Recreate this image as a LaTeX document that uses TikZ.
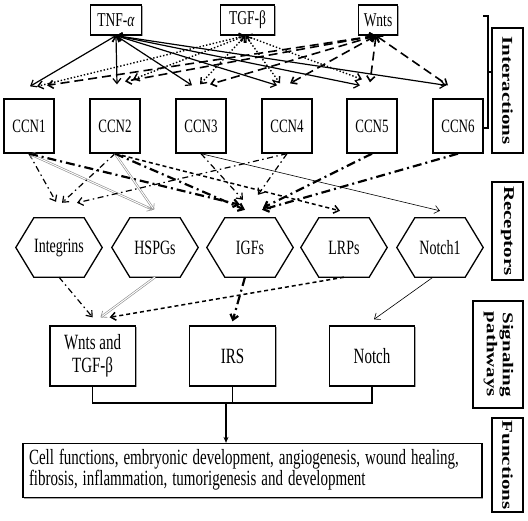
\documentclass[tikz,border=0pt]{standalone}
\usepackage{fontspec}
\setmainfont{Liberation Serif}
\usepackage{graphicx}
\usetikzlibrary{arrows.meta,calc,shadows}
\newcommand{\tall}[1]{\scalebox{1}[1.45]{#1}}
\newcommand{\wide}[1]{\scalebox{1.4}[1]{#1}}
\begin{document}
\begin{tikzpicture}[x=1pt,y=-1pt,
  >={Straight Barb[length=5pt,width=8pt]},
  box/.style={draw, line width=1.3pt, fill=white, inner sep=0pt,
    drop shadow={shadow xshift=1.3pt, shadow yshift=-1.3pt, fill=black!35, opacity=1}},
  topbox/.style={box, minimum height=30pt, font=\fontsize{13.5}{16}\selectfont},
  ccnbox/.style={box, minimum width=50pt, minimum height=54pt, font=\fontsize{13}{16}\selectfont},
  hexnode/.style={inner sep=0pt, minimum width=86pt, minimum height=59pt, font=\fontsize{14}{16}\selectfont},
  sigbox/.style={box, minimum width=85.5pt, minimum height=60pt, font=\fontsize{15}{16}\selectfont},
  lab/.style={draw, line width=1.3pt, inner sep=0pt, font=\bfseries\fontsize{15}{16}\selectfont},
  tnfl/.style={line width=1.2pt},
  tgfl/.style={line width=1.4pt, dash pattern=on 1.4pt off 2pt},
  wntl/.style={line width=1.6pt, dash pattern=on 9pt off 5pt},
  ddt/.style={line width=1.2pt, dash pattern=on 6pt off 3.5pt on 1.5pt off 3.5pt},
  ddk/.style={line width=2.2pt, dash pattern=on 9pt off 4pt on 2pt off 4pt},
  dbl/.style={draw=black!45, line width=0.6pt, double=white, double distance=1pt},
  dsh/.style={line width=1.5pt, dash pattern=on 4pt off 3pt},
  thinl/.style={line width=0.6pt},
  hexline/.style={line width=1.3pt}
]
\useasboundingbox (0,0) rectangle (528,520);
\fill[white] (0,0) rectangle (528,520);

% top boxes
\node[topbox, minimum width=51pt] (tnf) at (116,20) {\tall{TNF-{\itshape α}}};
\node[topbox, minimum width=54pt] (tgf) at (247.5,20) {\tall{TGF-β}};
\node[topbox, minimum width=39pt] (wnt) at (378,20) {\tall{Wnts}};

% CCN boxes
\node[ccnbox] (ccn1) at (29,126) {\tall{CCN1}};
\node[ccnbox] (ccn2) at (115,126) {\tall{CCN2}};
\node[ccnbox] (ccn3) at (201,126) {\tall{CCN3}};
\node[ccnbox] (ccn4) at (287,126) {\tall{CCN4}};
\node[ccnbox] (ccn5) at (372,126) {\tall{CCN5}};
\node[ccnbox] (ccn6) at (458,126) {\tall{CCN6}};

% receptors (hexagons)
\node[hexnode] (int) at (59,247.5) {\tall{Integrins}};
\node[hexnode] (hsp) at (155,247.5) {\tall{HSPGs}};
\node[hexnode] (igf) at (250,247.5) {\tall{IGFs}};
\node[hexnode] (lrp) at (344,247.5) {\tall{LRPs}};
\node[hexnode] (nch) at (440,247.5) {\tall{Notch1}};
\foreach \n in {int,hsp,igf,lrp,nch}{
  \draw[hexline] (\n.west) -- ([xshift=18pt]\n.north west) -- ([xshift=-18pt]\n.north east)
    -- (\n.east) -- ([xshift=-18pt]\n.south east) -- ([xshift=18pt]\n.south west) -- cycle;
}

% signaling boxes
\node[sigbox] (sw) at (92.6,356) {\tall{\begin{tabular}{@{}c@{}}Wnts and\\TGF-β\end{tabular}}};
\node[sigbox] (irs) at (232.5,356) {\tall{IRS}};
\node[sigbox] (sn) at (372,356) {\tall{Notch}};

% functions box
\node[box, minimum width=459pt, minimum height=54pt, text width=447pt, inner xsep=6pt, align=left,
  font=\fontsize{15}{12.8}\selectfont] (fun) at (252.5,470.5)
  {\tall{\begin{tabular}{@{}l@{}}Cell functions, embryonic development, angiogenesis, wound healing,\\fibrosis, inflammation, tumorigenesis and development\end{tabular}}};

% right-hand labels
\node[lab, minimum width=31pt, minimum height=125pt] (lint) at (507.5,90.5) {\rotatebox{-90}{\wide{Interactions}}};
\node[lab, minimum width=31pt, minimum height=98pt] (lrec) at (507.5,231) {\rotatebox{-90}{\wide{Receptors}}};
\node[lab, minimum width=50pt, minimum height=107pt] (lsig) at (498,354.5) {\rotatebox{-90}{\wide{\begin{tabular}{@{}c@{}}Signaling\\pathways\end{tabular}}}};
\node[lab, minimum width=31pt, minimum height=94pt] (lfun) at (507.5,465) {\rotatebox{-90}{\wide{Functions}}};

% bracket
\coordinate (bk) at (488,72);
\draw[line width=1.2pt] (483,16) -- (488,16) -- (488,128) -- (483,128);
\draw[line width=1.2pt] (bk) -- (lint.west |- bk);

% TNF-alpha interactions (solid)
\draw[tnfl,<->] (tnf.south) -- ($(ccn1.north)+(1,-12)$);
\draw[tnfl,<->] (tnf.south) -- ($(ccn2.north)+(2,-14)$);
\draw[tnfl,<->] (tnf.south) -- ($(ccn3.north)+(-9,-13)$);
\draw[tnfl,<->] (tnf.south) -- ($(ccn4.north)+(-10,-13)$);
\draw[tnfl,<->] (tnf.south) -- ($(ccn5.north)+(-12,-13)$);
\draw[tnfl,<->] (tnf.south) -- ($(ccn6.north)+(-12,-13)$);
% TGF-beta interactions (dotted)
\draw[tgfl,<->] ($(tgf.south)+(-2,0)$) -- ($(ccn1.north)+(8,-12)$);
\draw[tgfl,<->] ($(tgf.south)+(-2,0)$) -- ($(ccn2.north)+(18,-19)$);
\draw[tgfl,<->] ($(tgf.south)+(-2,0)$) -- ($(ccn3.north)+(-1,-14)$);
\draw[tgfl,<->] ($(tgf.south)+(-2,0)$) -- ($(ccn4.north)+(-7,-15)$);
\draw[tgfl,<->] ($(tgf.south)+(-2,0)$) -- ($(ccn5.north)+(-10,-19)$);
% Wnts interactions (dashed)
\draw[wntl,<->] ($(wnt.south)+(-2,0)$) -- ($(ccn1.north)+(18,-13)$);
\draw[wntl,<->] ($(wnt.south)+(-2,0)$) -- ($(ccn2.north)+(10,-17)$);
\draw[wntl,<->] ($(wnt.south)+(-2,0)$) -- ($(ccn3.north)+(9,-14)$);
\draw[wntl,<->] ($(wnt.south)+(-2,0)$) -- ($(ccn4.north)+(3,-15)$);
\draw[wntl,<->] ($(wnt.south)+(-2,0)$) -- ($(ccn5.north)+(-2,-16)$);
\draw[wntl,<->] ($(wnt.south)+(-2,0)$) -- ($(ccn6.north)+(-10,-13)$);

% CCN -> receptors
\draw[ddt,->] (ccn1.south) -- ($(int.north)+(-3,-16)$);
\draw[dbl,<->] (ccn1.south) -- ($(hsp.north)+(-2,-8)$);
\draw[ddk,->] (ccn1.south) -- ($(igf.north)+(-10,-13)$);
\draw[ddt,->] (ccn2.south) -- ($(int.north)+(3,-15)$);
\draw[dbl,->] (ccn2.south) -- ($(hsp.north)+(-1,-8)$);
\draw[ddk,->] (ccn2.south) -- ($(igf.north)+(-5,-8)$);
\draw[dsh,->] (ccn2.south) -- ($(lrp.north)+(-4,-7)$);
\draw[ddt,->] (ccn3.south) -- ($(igf.north)+(-7,-18)$);
\draw[thinl,->] (ccn3.south) -- ($(nch.north)+(0,-7)$);
\draw[ddt,->] (ccn4.south) -- ($(int.north)+(18,-15)$);
\draw[ddt,->] (ccn4.south) -- ($(igf.north)+(8,-23)$);
\draw[ddk,->] (ccn5.south) -- ($(igf.north)+(13,-10)$);
\draw[ddk,->] (ccn6.south) -- ($(igf.north)+(12,-8)$);

% receptors -> signaling
\draw[ddt,->] (int.south) -- ($(sw.north)+(0,-8)$);
\draw[dbl,->] (hsp.south) -- ($(sw.north)+(8,-8)$);
\draw[ddk,->] ($(igf.south)+(-5,0)$) -- ($(irs.north)+(0,-4)$);
\draw[dsh,->] (lrp.south) -- ($(sw.north)+(17,-8)$);
\draw[thinl,->] ($(nch.south)+(-7,0)$) -- ($(sn.north)+(2,-6)$);

% merge to functions
\coordinate (mj) at (226,403);
\draw[line width=1.2pt] (sw.south) -- (sw.south |- mj) -- (sn.south |- mj) -- (sn.south);
\draw[line width=1.2pt] (irs.south) -- (irs.south |- mj);
\draw[line width=2pt, -{Stealth[length=6pt,width=5pt]}] (mj) -- (mj |- fun.north);
\end{tikzpicture}
\end{document}
